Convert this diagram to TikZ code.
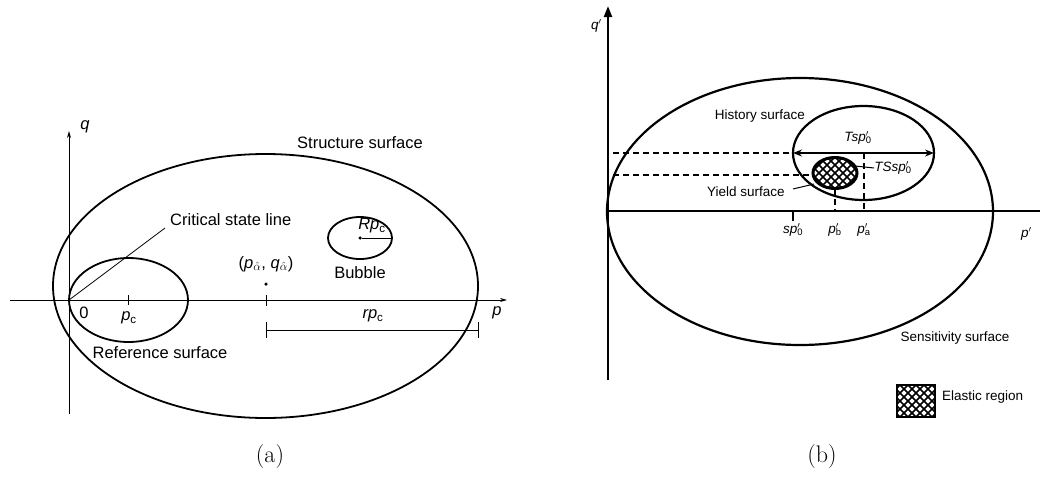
\documentclass[tikz,border=0pt]{standalone}
\usepackage{fontspec}
\newfontfamily\arial{Liberation Sans}
\usetikzlibrary{arrows.meta}
\newcommand{\pq}[2]{\textit{#1}\rlap{$'$}\textsubscript{#2}}
\newcommand{\hatchlines}[4]{% cx cy half-width half-height
  \foreach \k in {-80,-72,...,80}{
    \draw[line width=1.6pt] ({#1+\k-#4},{#2-#4}) -- ({#1+\k+#4},{#2+#4});
    \draw[line width=1.6pt] ({#1+\k+#4},{#2-#4}) -- ({#1+\k-#4},{#2+#4});
  }}
\begin{document}
\begin{tikzpicture}[x=1pt,y=-1pt,
  lab/.style={font=\arial\fontsize{16.5}{18}\selectfont, inner sep=0pt},
  labr/.style={font=\arial\fontsize{13.5}{15}\selectfont, inner sep=0pt},
  captxt/.style={font=\fontsize{24}{28}\selectfont, inner sep=0pt},
  thinax/.style={line width=0.8pt, -{Stealth[length=7pt,width=4pt]}},
  thickax/.style={line width=2.2pt},
  surfA/.style={line width=1.8pt},
  surfB/.style={line width=2.2pt},
  thinl/.style={line width=0.8pt},
  dsh/.style={line width=1.4pt, dash pattern=on 6pt off 4pt}]
\useasboundingbox (0,0) rectangle (1042,479);

% ---------------- (a) ----------------
\coordinate (O) at (69,300);
\coordinate (pL) at (10,300);
\coordinate (pR) at (507,300);
\coordinate (qB) at (69,414);
\coordinate (qT) at (69,131);
\draw[thinax] (pL) -- (pR);
\draw[thinax] (qB) -- (qT);

\draw[surfA] (265.5,286) ellipse [x radius=212.5pt, y radius=132pt];
\draw[surfA] (128.5,300) ellipse [x radius=59.5pt, y radius=42pt];
\draw[surfA] (360,238) ellipse [x radius=32pt, y radius=21pt];

\coordinate (cslE) at (165,228);
\draw[thinl] (O) -- (cslE);

\coordinate (pc1) at (128,295); \coordinate (pc2) at (128,305);
\draw[thinl] (pc1) -- (pc2);
\coordinate (al1) at (266,295); \coordinate (al2) at (266,306);
\draw[thinl] (al1) -- (al2);
\node[circle, fill, inner sep=0pt, minimum size=3.5pt] (alpha) at (266,284) {};

\coordinate (dA) at (266,330); \coordinate (dB) at (478,330);
\coordinate (dA1) at (266,322); \coordinate (dA2) at (266,338);
\coordinate (dB1) at (478,322); \coordinate (dB2) at (478,338);
\draw[thinl] (dA) -- (dB);
\draw[thinl] (dA1) -- (dA2);
\draw[thinl] (dB1) -- (dB2);

\node[circle, fill, inner sep=0pt, minimum size=3.5pt] (bc) at (360,238) {};
\coordinate (bR) at (392,238);
\draw[thinl] (bc) -- (bR);

\node[lab] (ss) at (360,143) {Structure surface};
\node[lab, anchor=west] (csl) at (170,220) {Critical state line};
\node[lab] (rs) at (160,353) {Reference surface};
\node[lab] (bub) at (360,273) {Bubble};
\node[lab] (Rpc) at (372,226) {\textit{Rp}\textsubscript{c}};
\node[lab] (rpc) at (373,316) {\textit{rp}\textsubscript{c}};
\node[lab] (plab) at (497,313) {\textit{p}};
\node[lab] (qlab) at (85,127) {\textit{q}};
\node[lab] (zero) at (84,313) {0};
\node[lab] (pclab) at (129,318) {\textit{p}\textsubscript{c}};
\node[lab] (alab) at (266,264) {(\textit{p}\textsubscript{$\hat\alpha$}, \textit{q}\textsubscript{$\hat\alpha$})};
\node[captxt] (capa) at (270,457) {(a)};

% ---------------- (b) ----------------
\coordinate (O2) at (608,211);
\coordinate (q2B) at (608,380);
\coordinate (q2T) at (608,6);
\coordinate (p2R) at (1040,211);
\draw[thickax, -{Triangle[length=11pt,width=8pt]}] (q2B) -- (q2T);
\draw[thickax] (O2) -- (p2R);

\draw[surfB] (800,211.5) ellipse [x radius=193pt, y radius=133.5pt];
\draw[surfB] (863.5,153) ellipse [x radius=70.5pt, y radius=47pt];

% dashed guides
\coordinate (h1L) at (613,153); \coordinate (h1R) at (793,153);
\coordinate (h2L) at (613,175); \coordinate (h2R) at (813,175);
\coordinate (vaT) at (864,153); \coordinate (vaB) at (864,211);
\coordinate (vbT) at (835,189); \coordinate (vbB) at (835,211);
\draw[dsh] (h1L) -- (h1R);
\draw[dsh] (h2L) -- (h2R);
\draw[dsh] (vaT) -- (vaB);
\draw[dsh] (vbT) -- (vbB);

% Tsp arrow
\coordinate (tL) at (793,153); \coordinate (tR) at (934,153);
\draw[line width=2pt, {Stealth[length=9pt,width=7pt]}-{Stealth[length=9pt,width=7pt]}] (tL) -- (tR);

% yield surface (elastic region)
\begin{scope}
  \clip (835,173) ellipse [x radius=22pt, y radius=15.5pt];
  \fill[white] (800,150) rectangle (870,200);
  \hatchlines{835}{173}{40}{40}
\end{scope}
\draw[line width=3pt] (835,173) ellipse [x radius=22pt, y radius=15.5pt];

% tick sp0
\coordinate (s1) at (793,211); \coordinate (s2) at (793,221);
\draw[line width=2pt] (s1) -- (s2);

% leaders
\node[labr] (TSs) at (893,168) {\pq{TSsp}{0}};
\coordinate (TSsE) at (855,166);
\draw[line width=1pt] (TSs.west) -- (TSsE);
\node[labr] (ys) at (746,192) {Yield surface};
\coordinate (ysS) at (793,189);
\coordinate (ysE) at (814,184);
\draw[line width=1pt] (ysS) -- (ysE);

\node[labr] (hs) at (760,116) {History surface};
\node[labr] (Ts) at (858,138) {\pq{Tsp}{0}};
\node[labr] (sp0) at (793,230) {\pq{sp}{0}};
\node[labr] (pb) at (835,230) {\pq{p}{b}};
\node[labr] (pa) at (864,230) {\pq{p}{a}};
\node[labr] (q2lab) at (595,26) {\pq{q}{}};
\node[labr] (p2lab) at (1025,234) {\pq{p}{}};
\node[labr] (sens) at (955,338) {Sensitivity surface};

% legend
\begin{scope}
  \clip (897,385) rectangle (935,417);
  \fill[white] (897,385) rectangle (935,417);
  \hatchlines{916}{401}{40}{40}
\end{scope}
\draw[line width=2pt] (897,385) rectangle (935,417);
\node[labr, anchor=west] (el) at (942,397) {Elastic region};

\node[captxt] (capb) at (822,457) {(b)};
\end{tikzpicture}
\end{document}
